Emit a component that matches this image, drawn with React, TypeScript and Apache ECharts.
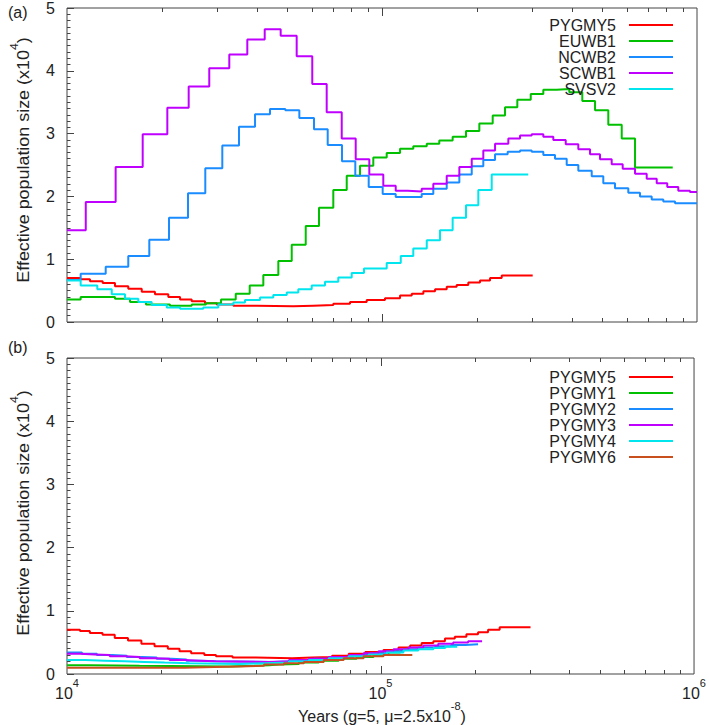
import React, { useEffect, useRef } from 'react';
import * as echarts from 'echarts';

// ---------- data (years, effective population size x10^4) ----------
const pygmy5 = [
  [10000, 0.70], [11000, 0.68], [11830, 0.65], [12980, 0.62], [14200, 0.57], [15650, 0.53],
  [17270, 0.48], [19020, 0.44], [20970, 0.40], [22850, 0.36], [24880, 0.33], [27420, 0.30],
  [29870, 0.28], [33730, 0.26], [40030, 0.25], [52280, 0.26], [60510, 0.27], [70050, 0.29],
  [79160, 0.32], [89420, 0.35], [102200, 0.38], [114100, 0.42], [124300, 0.45], [135300, 0.49],
  [147400, 0.52], [160500, 0.56], [172600, 0.59], [187900, 0.63], [204700, 0.66], [220300, 0.70],
  [239900, 0.74], [300900, 0.74],
];
const euwb1 = [
  [10000, 0.36], [11050, 0.40], [14200, 0.37], [15850, 0.32], [17810, 0.28], [21230, 0.26],
  [24880, 0.28], [27620, 0.30], [30830, 0.36], [34330, 0.45], [38020, 0.58], [42000, 0.75],
  [46870, 0.97], [51690, 1.23], [57260, 1.53], [63100, 1.82], [70050, 2.10], [77270, 2.33],
  [85160, 2.49], [93840, 2.62], [103500, 2.69], [114100, 2.76], [125700, 2.80], [138700, 2.84],
  [152000, 2.89], [167600, 2.95], [184800, 3.04], [203700, 3.16], [224600, 3.29], [245800, 3.42],
  [268900, 3.54], [296600, 3.63], [325200, 3.70], [358600, 3.71], [393200, 3.66], [432400, 3.52],
  [474600, 3.37], [522900, 3.14], [576800, 2.92], [635700, 2.46], [837500, 2.46],
];
const ncwb2 = [
  [10000, 0.67], [11050, 0.77], [13270, 0.88], [15650, 1.05], [18250, 1.31], [21080, 1.66],
  [24220, 2.05], [27480, 2.45], [31120, 2.81], [35160, 3.11], [39530, 3.31], [44100, 3.39],
  [49320, 3.37], [54650, 3.25], [60830, 3.07], [67240, 2.82], [74640, 2.56], [82270, 2.33],
  [90740, 2.15], [100500, 2.04], [110540, 1.99], [121200, 1.99], [133660, 2.04], [145500, 2.12],
  [160500, 2.22], [176000, 2.35], [192700, 2.48], [209700, 2.58], [228500, 2.67], [250600, 2.71],
  [274300, 2.73], [298700, 2.71], [325200, 2.66], [354200, 2.60], [385800, 2.50], [420000, 2.41],
  [463200, 2.32], [504100, 2.21], [549100, 2.13], [605200, 2.06], [659200, 2.00], [718100, 1.95],
  [781600, 1.92], [851700, 1.89], [1000000, 1.89],
];
const scwb1 = [
  [10000, 1.46], [11470, 1.91], [14270, 2.47], [17390, 2.99], [20820, 3.41], [24340, 3.75],
  [28290, 4.04], [32750, 4.26], [37360, 4.50], [42430, 4.66], [47680, 4.56], [53600, 4.23],
  [60070, 3.79], [66750, 3.34], [74500, 2.92], [82510, 2.59], [91140, 2.35], [100950, 2.17],
  [110540, 2.09], [120660, 2.08], [133660, 2.12], [145500, 2.20], [160500, 2.33], [176000, 2.47],
  [192700, 2.60], [209700, 2.73], [228500, 2.84], [251800, 2.92], [274300, 2.97], [298700, 2.99],
  [325200, 2.95], [349800, 2.90], [383000, 2.83], [420000, 2.75], [457500, 2.67], [492100, 2.59],
  [536000, 2.51], [580900, 2.44], [635700, 2.36], [692400, 2.28], [745000, 2.21], [804600, 2.15],
  [872200, 2.09], [949900, 2.07], [1000000, 2.07],
];
const svsv2 = [
  [10000, 0.66], [11050, 0.58], [12480, 0.52], [13870, 0.44], [15280, 0.37], [16840, 0.32],
  [18570, 0.27], [20730, 0.23], [22850, 0.21], [27080, 0.23], [30220, 0.28], [33730, 0.31],
  [36730, 0.35], [41010, 0.39], [45180, 0.43], [49840, 0.47], [54240, 0.52], [59810, 0.58],
  [65920, 0.64], [72650, 0.71], [80130, 0.78], [87670, 0.85], [103500, 0.94], [114700, 1.05],
  [125700, 1.17], [138700, 1.30], [152800, 1.46], [167600, 1.66], [184800, 1.86], [202200, 2.10],
  [223000, 2.35], [291300, 2.35],
];
const pygmy1 = [
  [10000, 0.14], [11830, 0.13], [17050, 0.12], [32930, 0.13], [39510, 0.14], [44090, 0.15],
  [47440, 0.16], [54910, 0.18], [63550, 0.21], [73560, 0.24], [83920, 0.27], [95000, 0.30],
  [106000, 0.34], [115700, 0.38], [125400, 0.38],
];
const pygmy2 = [
  [10000, 0.34], [11160, 0.32], [12450, 0.30], [13900, 0.29], [15510, 0.27], [17300, 0.26],
  [19310, 0.24], [21540, 0.23], [24040, 0.21], [26830, 0.20], [29930, 0.19], [45730, 0.20],
  [52940, 0.22], [61270, 0.24], [70910, 0.27], [82100, 0.30], [92960, 0.33], [104500, 0.36],
  [118300, 0.39], [132000, 0.42], [149500, 0.44], [168100, 0.46], [186200, 0.47], [204700, 0.47],
];
const pygmy3 = [
  [10000, 0.32], [11000, 0.31], [12270, 0.30], [13690, 0.28], [15280, 0.27], [17050, 0.25],
  [19020, 0.24], [21230, 0.22], [23690, 0.21], [26440, 0.20], [29500, 0.19], [44090, 0.20],
  [51050, 0.22], [59070, 0.24], [68370, 0.27], [79160, 0.30], [88320, 0.33], [98550, 0.36],
  [110000, 0.39], [122700, 0.42], [136900, 0.45], [152800, 0.48], [170500, 0.50], [190300, 0.52],
  [210800, 0.52],
];
const pygmy4 = [
  [10000, 0.22], [11410, 0.21], [13200, 0.20], [15280, 0.19], [17680, 0.18], [20470, 0.17],
  [24570, 0.16], [35410, 0.17], [42510, 0.18], [51050, 0.20], [59070, 0.22], [68370, 0.25],
  [79160, 0.28], [91610, 0.31], [104500, 0.34], [118300, 0.37], [132000, 0.39], [147400, 0.41],
  [160800, 0.43], [175600, 0.43],
];
const pygmy6 = [
  [10000, 0.10], [23690, 0.11], [29500, 0.12], [35410, 0.13], [42510, 0.15], [49200, 0.17],
  [56950, 0.19], [65910, 0.22], [76300, 0.25], [88320, 0.28], [102200, 0.30], [126300, 0.30],
];

const topNames = ['PYGMY5', 'EUWB1', 'NCWB2', 'SCWB1', 'SVSV2'];
const bottomNames = ['PYGMY5', 'PYGMY1', 'PYGMY2', 'PYGMY3', 'PYGMY4', 'PYGMY6'];
const topData = [pygmy5, euwb1, ncwb2, scwb1, svsv2];
const bottomData = [pygmy5, pygmy1, pygmy2, pygmy3, pygmy4, pygmy6];
const panelLabels = ['(a)', '(b)'];
const xMin = 1e4;
const xMax = 1e6;
const yMin = 0;
const yMax = 5;
const xMajorTicks = [1e5];
const xMinorTicks = [2e4, 3e4, 4e4, 5e4, 6e4, 7e4, 8e4, 9e4, 2e5, 3e5, 4e5, 5e5, 6e5, 7e5, 8e5, 9e5];
const yTitle = '{b|Effective population size (x10}{s|4}{b|)}';
const xTitle = '{b|Years (g=5, μ=2.5x10}{s|-8}{b|)}';

const colors: Record<string, string> = {
  PYGMY5: '#ff0000', EUWB1: '#00c000', NCWB2: '#1a8cff', SCWB1: '#c000ff', SVSV2: '#00e5ee',
  PYGMY1: '#00c000', PYGMY2: '#1a8cff', PYGMY3: '#c000ff', PYGMY4: '#00e5ee', PYGMY6: '#c8501e',
};

const FONT = '"Liberation Sans", Arial, Helvetica, sans-serif';
const INK = '#222';
const AXIS = '#444';

const supRich = (base: number, sup: number) => ({
  b: { fontSize: base, fontFamily: FONT, color: INK, lineHeight: base + 8, verticalAlign: 'bottom' },
  s: { fontSize: sup, fontFamily: FONT, color: INK, lineHeight: sup, verticalAlign: 'top' },
});

export default function App() {
  const ref = useRef<HTMLDivElement>(null);
  useEffect(() => {
    document.body.style.margin = '0';
    const chart = echarts.init(ref.current!, undefined, { renderer: 'svg' });

    const grids = [
      { left: 67, top: 5, width: 630, height: 317 },
      { left: 67, top: 358, width: 630, height: 316 },
    ].map((g) => ({ ...g, show: true, borderColor: AXIS, borderWidth: 1, backgroundColor: 'transparent' }));

    const xAxes = [0, 1].map((gi) => ({
      type: 'log', logBase: 10, gridIndex: gi, min: xMin, max: xMax,
      axisLine: { show: false }, axisTick: { show: false }, splitLine: { show: false },
      axisLabel: gi === 1 ? {
        show: true, margin: 3,
        formatter: (v: number) => `{b|10}{s|${Math.round(Math.log10(v))}}`,
        rich: supRich(16, 11),
      } : { show: false },
    }));

    const yAxes = [0, 1].map((gi) => ({
      type: 'value', gridIndex: gi, min: yMin, max: yMax, interval: 1,
      axisLine: { show: false },
      axisTick: { show: true, inside: true, length: 7, lineStyle: { color: AXIS } },
      minorTick: { show: true, splitNumber: 10, length: 3.5, lineStyle: { color: AXIS } },
      splitLine: { show: false },
      axisLabel: { fontSize: 16, fontFamily: FONT, color: INK, margin: 12 },
    }));

    const mkLine = (name: string, data: number[][], gi: number) => ({
      type: 'line', name, data, xAxisIndex: gi, yAxisIndex: gi, step: 'end',
      showSymbol: false, symbol: 'none', silent: true,
      lineStyle: { width: 2, color: colors[name] }, itemStyle: { color: colors[name] },
    });

    const tickSeries = (gi: number) => ({
      type: 'custom', name: 'ticks' + gi, xAxisIndex: gi, yAxisIndex: gi, silent: true, z: 5,
      clip: false,
      data: [...xMajorTicks, ...xMinorTicks].map((v) => [v, 0]),
      renderItem: (params: any, api: any) => {
        const cs = params.coordSys;
        const v = api.value(0);
        const x = Math.round(api.coord([v, 0])[0]) + 0.5;
        const len = xMajorTicks.includes(v) ? 8 : 4;
        const style = { stroke: AXIS, lineWidth: 1 };
        return {
          type: 'group', children: [
            { type: 'line', shape: { x1: x, y1: cs.y + cs.height, x2: x, y2: cs.y + cs.height - len }, style },
            { type: 'line', shape: { x1: x, y1: cs.y, x2: x, y2: cs.y + len }, style },
          ],
        };
      },
    });

    const legendBase = {
      orient: 'vertical', right: 31, align: 'right', icon: 'rect', itemWidth: 44, itemHeight: 2,
      itemGap: 0, selectedMode: false,
      textStyle: { fontSize: 16, lineHeight: 16, fontFamily: FONT, color: INK, padding: [0, 8, 0, 0] },
    };

    const titleText = (x: number, y: number) => ({
      type: 'text', x, y, rotation: Math.PI / 2, scaleX: 1.12,
      style: {
        text: yTitle, fontSize: 16, fontFamily: FONT, fill: INK, align: 'center', verticalAlign: 'middle',
        rich: supRich(16, 11),
      },
    });

    chart.setOption({
      animation: false,
      backgroundColor: '#fff',
      grid: grids,
      xAxis: xAxes,
      yAxis: yAxes,
      legend: [
        { ...legendBase, top: 12, data: topNames },
        { ...legendBase, top: 364, data: bottomNames },
      ],
      series: [
        ...topNames.map((n, i) => mkLine(n, topData[i], 0)),
        ...bottomNames.map((n, i) => mkLine(n, bottomData[i], 1)),
        tickSeries(0),
        tickSeries(1),
      ],
      graphic: [
        { type: 'text', left: 8, top: 4, style: { text: panelLabels[0], fontSize: 16, fontFamily: FONT, fill: INK } },
        { type: 'text', left: 8, top: 339, style: { text: panelLabels[1], fontSize: 16, fontFamily: FONT, fill: INK } },
        titleText(20, 160),
        titleText(20, 513),
        {
          type: 'text', x: 382, y: 712,
          style: { text: xTitle, fontSize: 16, fontFamily: FONT, fill: INK, align: 'center', verticalAlign: 'middle', rich: supRich(16, 11) },
        },
      ],
    });
    return () => chart.dispose();
  }, []);
  return <div ref={ref} style={{ position: 'absolute', left: 0, top: 0, width: 709, height: 725 }} />;
}
